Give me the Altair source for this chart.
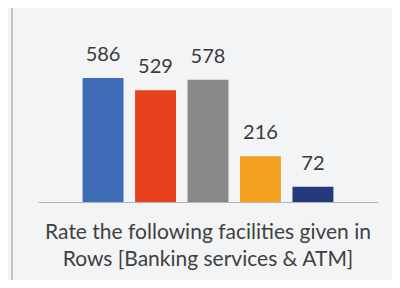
import altair as alt
import pandas as pd

categories = ["A", "B", "C", "D", "E"]
values = [586, 529, 578, 216, 72]
colors = ["#3e6db5", "#e8411d", "#888888", "#f4a11f", "#243a7c"]
title_lines = ["Rate the following facilities given in", "Rows [Banking services & ATM]"]

df = pd.DataFrame({"cat": categories, "val": values})

x = alt.X("cat:N", sort=categories,
          scale=alt.Scale(paddingInner=0.22, paddingOuter=0.85),
          axis=alt.Axis(labels=False, ticks=False, title=None, domainColor="#b4b4b8", domainWidth=1.2))
y = alt.Y("val:Q", scale=alt.Scale(domain=[0, 700], nice=False), axis=None)

bars = alt.Chart(df).mark_bar().encode(
    x=x, y=y,
    color=alt.Color("cat:N", scale=alt.Scale(domain=categories, range=colors), legend=None),
)
labels = alt.Chart(df).mark_text(baseline="bottom", dy=-13, font="Lato", fontSize=20, color="#3a3a3a").encode(
    x=x, y=y, text="val:Q"
)
frame = alt.Chart(df).mark_rule(color="#c4c4c8", strokeWidth=1.2).encode(
    x=alt.value(-26), y=alt.value(-46), y2=alt.value(226)
)

chart = alt.layer(frame, bars, labels).properties(
    width=340, height=148,
    title=alt.TitleParams(text=title_lines, orient="bottom", anchor="middle", frame="group", font="Lato",
                          fontSize=21, fontWeight="normal", color="#404040", lineHeight=27, offset=-59),
    autosize=alt.AutoSizeParams(type="none"),
    padding={"left": 30, "top": 46, "right": 14, "bottom": 78},
    background="#f3f4f6",
).configure_view(stroke=None)

chart.save("out.html", embed_options={"renderer": "svg", "actions": False})
